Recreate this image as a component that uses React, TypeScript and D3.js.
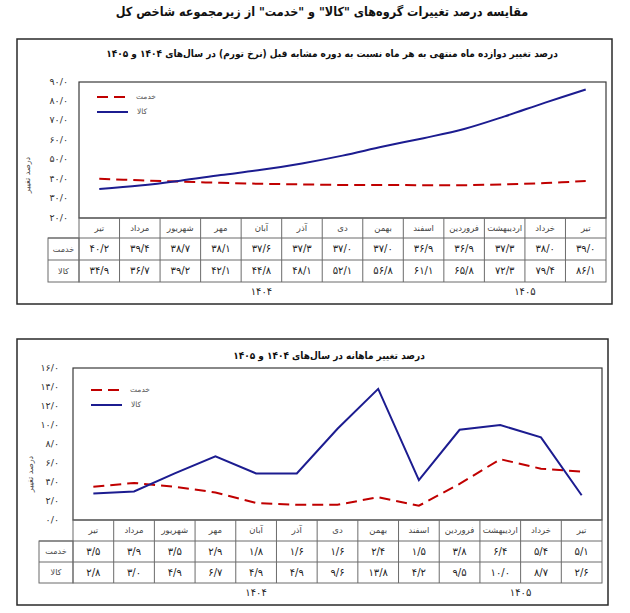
import * as d3 from "d3";

// months, left to right (Tir 1404 ... Tir 1405)
const months = ["تیر", "مرداد", "شهریور", "مهر", "آبان", "آذر", "دی", "بهمن", "اسفند", "فروردین", "اردیبهشت", "خرداد", "تیر"];
const years = [
  { label: "۱۴۰۴", from: 0, to: 8 },
  { label: "۱۴۰۵", from: 9, to: 12 },
];

// twelve-month inflation
const annualServices = [40.2, 39.4, 38.7, 38.1, 37.6, 37.3, 37.0, 37.0, 36.9, 36.9, 37.3, 38.0, 39.0];
const annualGoods = [34.9, 36.7, 39.2, 42.1, 44.8, 48.1, 52.1, 56.8, 61.1, 65.8, 72.3, 79.4, 86.1];
const annualTicks = [20, 30, 40, 50, 60, 70, 80, 90];

// month-on-month change
const monthlyServices = [3.5, 3.9, 3.5, 2.9, 1.8, 1.6, 1.6, 2.4, 1.5, 3.8, 6.4, 5.4, 5.1];
const monthlyGoods = [2.8, 3.0, 4.9, 6.7, 4.9, 4.9, 9.6, 13.8, 4.2, 9.5, 10.0, 8.7, 2.6];
const monthlyTicks = [0, 2, 4, 6, 8, 10, 12, 14, 16];

const SERVICES = "خدمت";
const GOODS = "کالا";
const RED = "#c00000";
const BLUE = "#1c1c90";
const FONT = "DejaVu Sans";
const FA_DIGITS = "۰۱۲۳۴۵۶۷۸۹";

const fa = (v: number) =>
  v
    .toFixed(1)
    .replace(".", "/")
    .replace(/[0-9]/g, (d) => FA_DIGITS[+d]);

type PanelProps = {
  frame: { x: number; y: number; w: number; h: number };
  plot: { left: number; right: number; top: number; bottom: number };
  title: string;
  titleX: number;
  titleY: number;
  axisX: number;
  axisY: number;
  tickX: number;
  labelLeft: number;
  rowH: number[];
  legendX: number;
  legendY: number;
  domain: [number, number];
  ticks: number[];
  services: number[];
  goods: number[];
  smooth: boolean;
};

function Panel(p: PanelProps) {
  const x = d3
    .scaleBand<number>()
    .domain(months.map((_, i) => i))
    .range([p.plot.left, p.plot.right]);
  const cx = (i: number) => (x(i) ?? 0) + x.bandwidth() / 2;
  const y = d3.scaleLinear().domain(p.domain).range([p.plot.bottom, p.plot.top]);

  const line = d3
    .line<number>()
    .x((_, i) => cx(i))
    .y((v) => y(v))
    .curve(p.smooth ? d3.curveCatmullRom.alpha(0.5) : d3.curveLinear);

  const r0 = p.plot.bottom;
  const r1 = r0 + p.rowH[0];
  const r2 = r1 + p.rowH[1];
  const r3 = r2 + p.rowH[2];
  const rows = [
    { name: SERVICES, values: p.services, top: r1, bottom: r2 },
    { name: GOODS, values: p.goods, top: r2, bottom: r3 },
  ];
  const grid = "#6b6b6b";

  return (
    <g fontFamily={FONT}>
      <rect x={p.frame.x} y={p.frame.y} width={p.frame.w} height={p.frame.h} fill="#fff" stroke="#2a2a2a" strokeWidth={1.5} />
      <text
        x={p.titleX}
        y={p.titleY}
        textAnchor="middle"
        dominantBaseline="middle"
        direction="rtl"
        fontSize={10}
        fontWeight="bold"
        fontStretch="condensed"
        fill="#111"
      >
        {p.title}
      </text>

      <rect x={p.plot.left} y={p.plot.top} width={p.plot.right - p.plot.left} height={p.plot.bottom - p.plot.top} fill="none" stroke="#3a3a3a" strokeWidth={1.2} />

      {p.ticks.map((t) => (
        <text key={t} x={p.tickX} y={y(t)} textAnchor="end" dominantBaseline="middle" fontSize={9.5} fill="#333">
          {fa(t)}
        </text>
      ))}
      <text transform={`translate(${p.axisX},${p.axisY}) rotate(-90)`} textAnchor="middle" dominantBaseline="middle" fontSize={8} fill="#444">
        درصد تغییر
      </text>

      <path d={line(p.services) ?? ""} fill="none" stroke={RED} strokeWidth={2} strokeDasharray="11,6" />
      <path d={line(p.goods) ?? ""} fill="none" stroke={BLUE} strokeWidth={2} />

      <line x1={p.legendX} x2={p.legendX + 31} y1={p.legendY} y2={p.legendY} stroke={RED} strokeWidth={2} strokeDasharray="11,6" />
      <line x1={p.legendX} x2={p.legendX + 31} y1={p.legendY + 15} y2={p.legendY + 15} stroke={BLUE} strokeWidth={2} />
      <text x={p.legendX + 39} y={p.legendY} dominantBaseline="middle" fontSize={7.5} fill="#555">{SERVICES}</text>
      <text x={p.legendX + 40} y={p.legendY + 15} dominantBaseline="middle" fontSize={7.5} fill="#555">{GOODS}</text>

      {/* data table */}
      <g stroke={grid} strokeWidth={1} fill="none">
        <rect x={p.plot.left} y={r0} width={p.plot.right - p.plot.left} height={r3 - r0} />
        <rect x={p.labelLeft} y={r1} width={p.plot.left - p.labelLeft} height={r3 - r1} />
        <line x1={p.labelLeft} x2={p.plot.right} y1={r1} y2={r1} />
        <line x1={p.labelLeft} x2={p.plot.right} y1={r2} y2={r2} />
        {months.slice(1).map((_, i) => (
          <line key={i} x1={x(i + 1)} x2={x(i + 1)} y1={r0} y2={r3} />
        ))}
      </g>
      {months.map((m, i) => (
        <text key={i} x={cx(i)} y={(r0 + r1) / 2} textAnchor="middle" dominantBaseline="middle" fontSize={8.5} fill="#444">
          {m}
        </text>
      ))}
      {rows.map((row) => (
        <g key={row.name}>
          <text x={(p.labelLeft + p.plot.left) / 2} y={(row.top + row.bottom) / 2} textAnchor="middle" dominantBaseline="middle" fontSize={8} fill="#444">
            {row.name}
          </text>
          {row.values.map((v, i) => (
            <text key={i} x={cx(i)} y={(row.top + row.bottom) / 2} textAnchor="middle" dominantBaseline="middle" fontSize={10} fill="#222">
              {fa(v)}
            </text>
          ))}
        </g>
      ))}
      {years.map((yr) => (
        <text key={yr.label} x={(cx(yr.from) + cx(yr.to)) / 2} y={r3 + 10} textAnchor="middle" dominantBaseline="middle" fontSize={10} fill="#222">
          {yr.label}
        </text>
      ))}
    </g>
  );
}

export default function App() {
  return (
    <svg width={630} height={613} style={{ position: "absolute", left: 0, top: 0, background: "#fff" }}>
      <rect width={630} height={613} fill="#fff" />
      <text
        x={322}
        y={12}
        textAnchor="middle"
        dominantBaseline="middle"
        direction="rtl"
        fontFamily={FONT}
        fontSize={12.5}
        fontWeight="bold"
        fontStretch="condensed"
        fill="#111"
      >
        مقایسه درصد تغییرات گروه‌های "کالا" و "خدمت" از زیرمجموعه شاخص کل
      </text>
      <Panel
        frame={{ x: 17, y: 39, w: 595, h: 265 }}
        plot={{ left: 79, right: 606, top: 82, bottom: 218 }}
        title="درصد تغییر دوازده ماه منتهی به هر ماه نسبت به دوره مشابه قبل (نرخ تورم) در سال‌های ۱۴۰۴ و ۱۴۰۵"
        titleX={332}
        titleY={54}
        axisX={27}
        axisY={175}
        tickX={68}
        labelLeft={48}
        rowH={[20, 22, 22]}
        legendX={97}
        legendY={97}
        domain={[20, 90]}
        ticks={annualTicks}
        services={annualServices}
        goods={annualGoods}
        smooth
      />
      <Panel
        frame={{ x: 17, y: 339, w: 591, h: 266 }}
        plot={{ left: 73, right: 602, top: 368, bottom: 520 }}
        title="درصد تغییر ماهانه در سال‌های ۱۴۰۴ و ۱۴۰۵"
        titleX={329}
        titleY={356}
        axisX={30}
        axisY={474}
        tickX={59}
        labelLeft={39}
        rowH={[21, 21, 21]}
        legendX={91}
        legendY={390}
        domain={[0, 16]}
        ticks={monthlyTicks}
        services={monthlyServices}
        goods={monthlyGoods}
        smooth={false}
      />
    </svg>
  );
}
